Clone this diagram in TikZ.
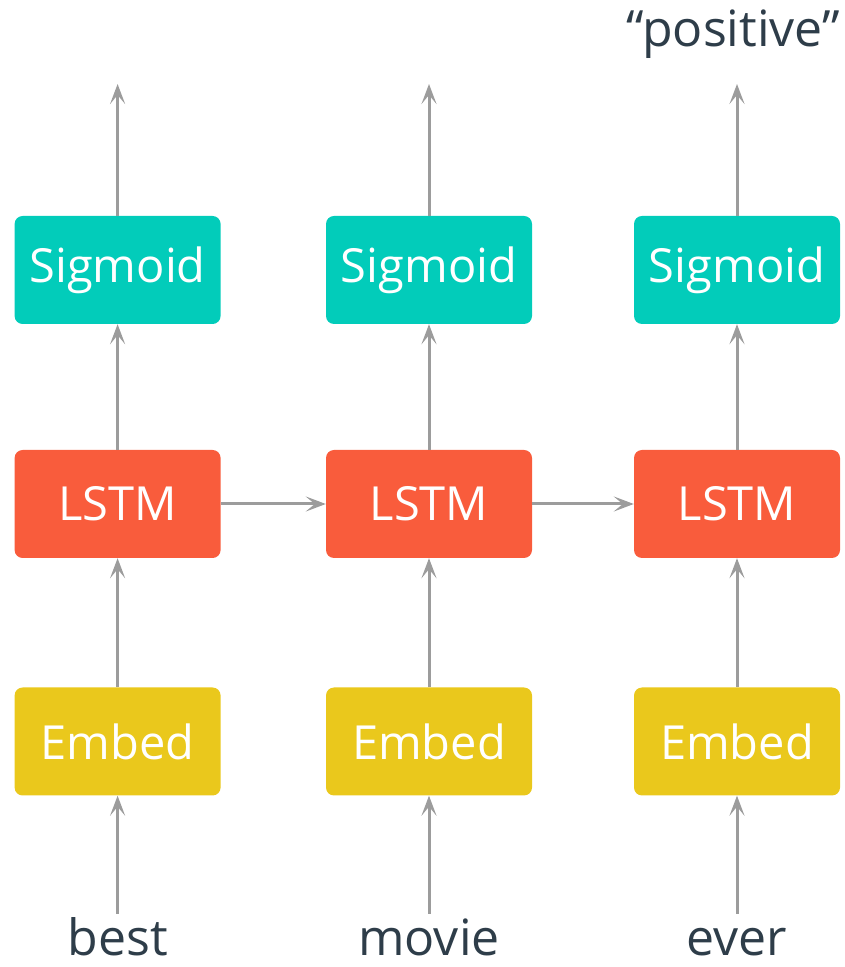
\documentclass[tikz,border=0pt]{standalone}
\usepackage{fontspec}
\setmainfont{Open Sans}
\usetikzlibrary{arrows.meta}
\definecolor{sigcol}{HTML}{02CCBA}
\definecolor{lstmcol}{HTML}{F95C3C}
\definecolor{embcol}{HTML}{EAC81C}
\definecolor{wordcol}{HTML}{2E3D49}
\definecolor{arrcol}{HTML}{9C9C9C}
\tikzset{
    every node/.style={rectangle, rounded corners=8pt, minimum width=206pt,
    	minimum height=108pt, text=white, font=\fontsize{47}{56}\selectfont}
}
\tikzset{
    word/.style={fill=none, minimum width=0pt, minimum height=0pt,
    	inner sep=0pt, outer sep=0pt, text height=41pt, text depth=0pt,
    	text=wordcol, font=\fontsize{50}{60}\selectfont, anchor=base}
}
\tikzset{
    every edge/.append style={draw=arrcol, line width=3pt,
    	-{Stealth[length=20pt,width=15pt,inset=9pt]}}
}

\begin{document}
\begin{tikzpicture}[x=1pt,y=1pt]
	\useasboundingbox (0,0) rectangle (844,967);
	\node (emb1) [fill=embcol] at (117.6,225.5) {Embed};
	\node (emb2) [fill=embcol] at (429,225.5) {Embed};
	\node (emb3) [fill=embcol] at (737,225.5) {Embed};
	\node (lstm1) [fill=lstmcol] at (117.6,463) {LSTM};
	\node (lstm2) [fill=lstmcol] at (429,463) {LSTM};
	\node (lstm3) [fill=lstmcol] at (737,463) {LSTM};
	\node (sig1) [fill=sigcol] at (117.6,697) {Sigmoid};
	\node (sig2) [fill=sigcol] at (429,697) {Sigmoid};
	\node (sig3) [fill=sigcol] at (737,697) {Sigmoid};
	\node (w1) [word] at (117.6,12) {best};
	\node (w2) [word] at (429,12) {movie};
	\node (w3) [word] at (737,12) {ever};
	\node (pos) [word] at (733,920) {“positive”};
	\coordinate (out1) at (117.6,883);
	\coordinate (out2) at (429,883);
	\coordinate (out3) at (737,883);
	
	\draw (w1) edge (emb1); \draw (w2) edge (emb2); \draw (w3) edge (emb3);
	\draw (emb1) edge (lstm1); \draw (emb2) edge (lstm2);
	\draw (emb3) edge (lstm3);
	\draw (lstm1) edge (lstm2); \draw (lstm2) edge (lstm3);
	\draw (lstm1) edge (sig1); \draw (lstm2) edge (sig2); \draw (lstm3) edge (sig3);
	\draw (sig1) edge (out1); \draw (sig2) edge (out2); \draw (sig3) edge (out3);
\end{tikzpicture}
\end{document}
